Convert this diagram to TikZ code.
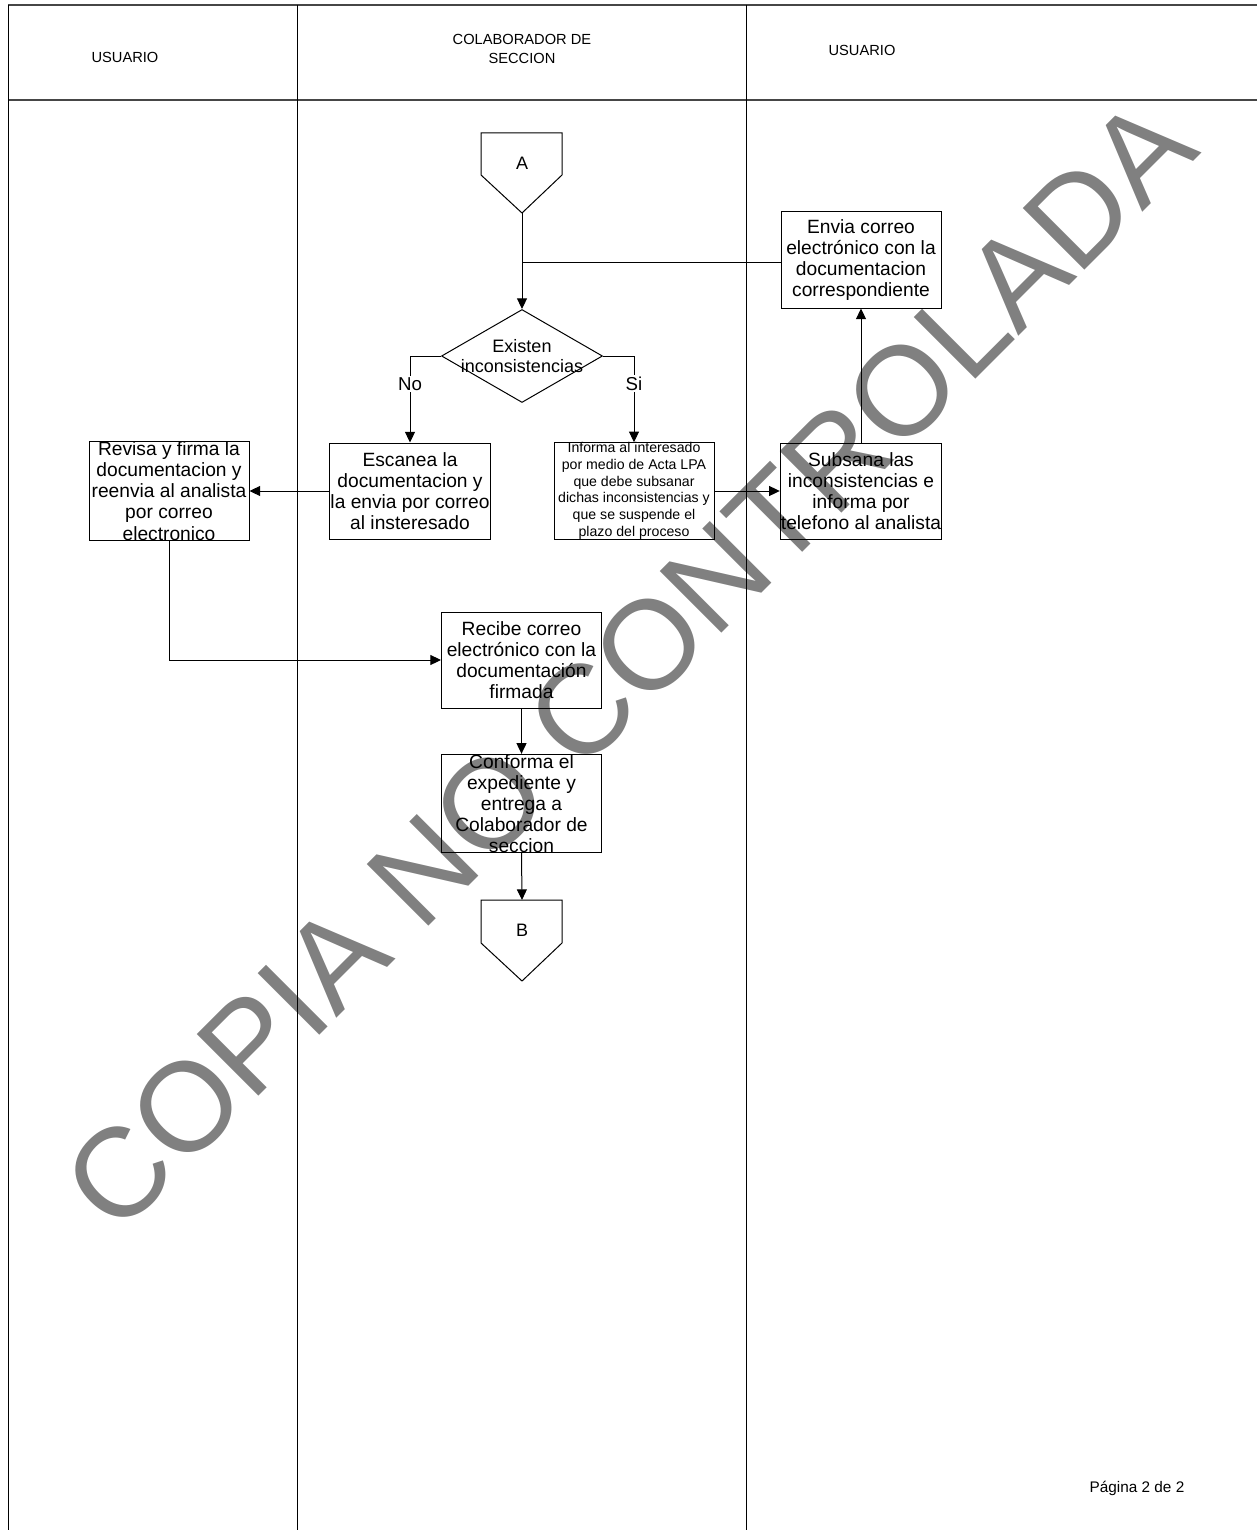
\documentclass[tikz,border=0pt]{standalone}
\usepackage{fontspec}
\setmainfont{Liberation Sans}
\usepackage{tikz}
\usetikzlibrary{positioning,shapes.geometric,arrows.meta}
\definecolor{sello}{RGB}{128,128,128}
\definecolor{borde}{RGB}{70,70,70}

\begin{document}
\begin{tikzpicture}[x=0.75pt,y=-0.75pt,>={Triangle[length=8pt,width=7.5pt]},
    every node/.style={font=\fontsize{13.5}{15.5}\selectfont},
    proc/.style={draw,line width=0.75pt,minimum width=120pt,minimum height=72pt,inner xsep=0.5pt,inner ysep=0pt,align=center,
      font=\fontsize{14.4}{15.8}\selectfont},
    dec/.style={draw,diamond,line width=0.75pt,minimum width=120.75pt,minimum height=69.75pt,inner sep=0pt},
    lab/.style={fill=white,inner sep=1pt,font=\fontsize{14}{15}\selectfont},
    head/.style={font=\fontsize{11}{14}\selectfont,align=center}]
  \useasboundingbox (0,0) rectangle (1257,1530);
  % marca de agua
  \node[rotate=45,anchor=base,text=sello,font=\fontsize{95}{95}\selectfont] (marca) at (660,695) {COPIA NO CONTROLADA};
  % carriles
  \draw[line width=1.2pt,borde] (8,5) -- (1257,5);
  \draw[line width=1.2pt,borde] (8,100) -- (1257,100);
  \draw[line width=0.75pt] (8,5) -- (8,1530);
  \draw[line width=0.75pt] (297,5) -- (297,1530);
  \draw[line width=0.75pt] (746,5) -- (746,1530);
  \node[head] (us1) at (125,57) {USUARIO};
  \node[head] (col) at (522,49) {COLABORADOR DE\\SECCION};
  \node[head] (us2) at (862,50) {USUARIO};
  % conectores de pagina
  \node (A) at (522,163) {A};
  \coordinate (Atip) at (522,213);
  \draw[line width=0.75pt] (481,133) -- (562,133) -- (562,175) -- (Atip) -- (481,175) -- cycle;
  \node (B) at (522,930) {B};
  \coordinate (Btop) at (522,900);
  \draw[line width=0.75pt] (481,900) -- (562,900) -- (562,943) -- (522,981) -- (481,943) -- cycle;
  % pasos
  \node[dec,label={[align=center]center:Existen\\inconsistencias}] (existen) at (522,356) {};
  \node[proc] (envia) at (861,260) {Envia correo\\electrónico con la\\documentacion\\correspondiente};
  \node[proc] (subsana) at (861,491) {Subsana las\\inconsistencias e\\informa por\\telefono al analista};
  \node[proc] (escanea) at (410,491) {Escanea la\\documentacion y\\la envia por correo\\al insteresado};
  \node[proc,font=\fontsize{10.6}{12.5}\selectfont] (informa) at (634,491) {Informa al interesado\\por medio de Acta LPA\\que debe subsanar\\dichas inconsistencias y\\que se suspende el\\plazo del proceso};
  \node[proc] (revisa) at (169,491) {Revisa y firma la\\documentacion y\\reenvia al analista\\por correo\\electronico};
  \node[proc] (recibe) at (521.5,660) {Recibe correo\\electrónico con la\\documentación\\firmada};
  \node[proc] (conforma) at (521.5,803.5) {Conforma el\\expediente y\\entrega a\\Colaborador de\\seccion};
  \node[font=\fontsize{11.5}{13}\selectfont] (pag) at (1137,1488) {Página 2 de 2};
  % flechas
  \coordinate (union) at (522,262);
  \draw[->,line width=0.75pt] (Atip) -- (existen.north);
  \draw[line width=0.75pt] (envia.west |- union) -- (union);
  \draw[->,line width=0.75pt] (existen.west) -| node[lab,pos=0.66] {No} (escanea.north);
  \draw[->,line width=0.75pt] (existen.east) -| node[lab,pos=0.66] {Si} (informa.north);
  \draw[->,line width=0.75pt] (informa.east) -- (subsana.west);
  \draw[->,line width=0.75pt] (subsana.north) -- (envia.south);
  \draw[->,line width=0.75pt] (escanea.west) -- (revisa.east);
  \draw[->,line width=0.75pt] (revisa.south) |- (recibe.west);
  \draw[->,line width=0.75pt] (recibe.south) -- (conforma.north);
  \draw[->,line width=0.75pt] (conforma.south) -- (Btop);
\end{tikzpicture}
\end{document}
